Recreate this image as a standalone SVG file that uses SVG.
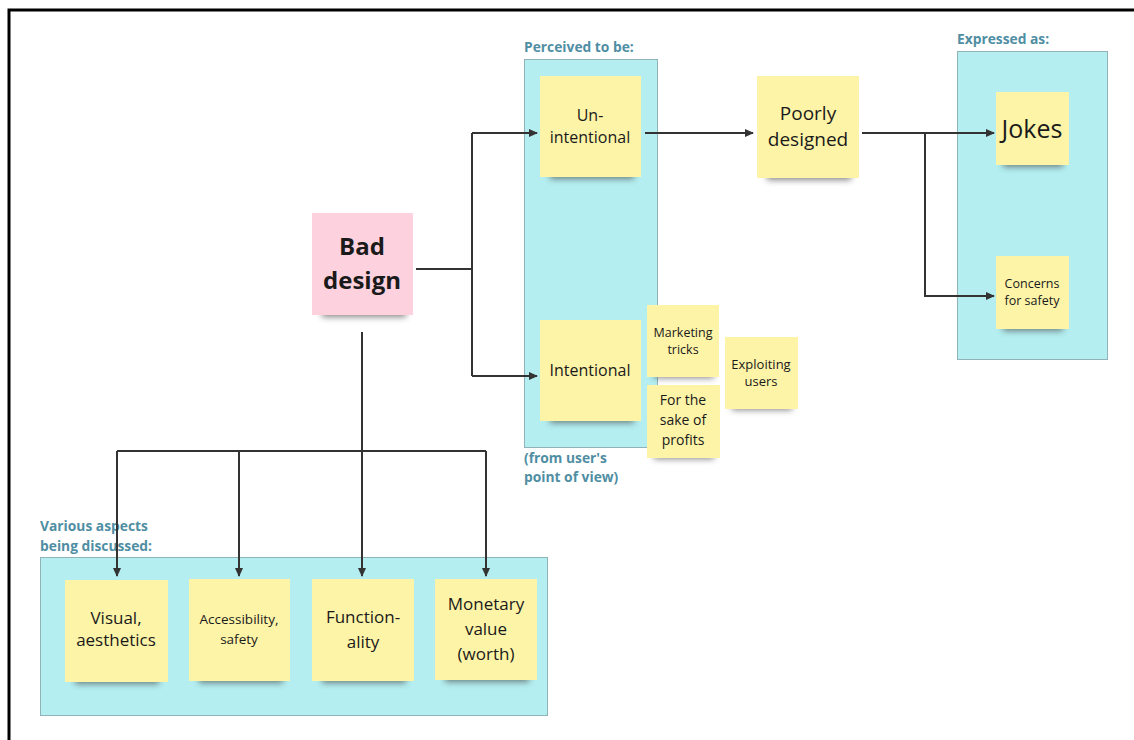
<svg xmlns="http://www.w3.org/2000/svg" width="1134" height="740" viewBox="0 0 1134 740">
<defs>
<marker id="arr" markerWidth="10" markerHeight="10" refX="8" refY="5" orient="auto" markerUnits="userSpaceOnUse">
<path d="M0,1 L9,5 L0,9 Z" fill="#333"/>
</marker>
<filter id="blur" x="-20%" y="-100%" width="140%" height="300%"><feGaussianBlur stdDeviation="3"/></filter>
</defs>
<style>
.frame{fill:none;stroke:#000;stroke-width:3}
.box{fill:#b4eef0;stroke:#8fb3b6;stroke-width:1}
.sticky{fill:#fdf4a8}
.pink{fill:#fdd2de}
.sh{fill:#444;opacity:0.65;filter:url(#blur)}
.lbl{font-family:"Open Sans","DejaVu Sans",sans-serif;font-weight:bold;font-size:13.800px;fill:#4f8ea3}
.t{font-family:"Open Sans","DejaVu Sans",sans-serif;fill:#1a1a1a;text-anchor:middle}
.c{fill:none;stroke:#333;stroke-width:2}
</style>
<rect width="1134" height="740" fill="#fff"/>
<path class="frame" d="M9,740 V10 H1134"/>

<g id="containers">
<rect class="box" x="524.500" y="59.500" width="133" height="388"/>
<text class="lbl" x="524" y="52">Perceived to be:</text>
<text class="lbl" x="524" y="463">(from user's</text>
<text class="lbl" x="524" y="482">point of view)</text>
<rect class="box" x="957.500" y="51.500" width="150" height="308"/>
<text class="lbl" x="957" y="44">Expressed as:</text>
<rect class="box" x="40.500" y="557.500" width="507" height="158"/>
<text class="lbl" x="40" y="531">Various aspects</text>
<text class="lbl" x="40" y="551">being discussed:</text>
</g>

<g id="connectors">
<path class="c" d="M416,269 H472"/>
<path class="c" d="M472,133 V376"/>
<path class="c" d="M472,133 H537" marker-end="url(#arr)"/>
<path class="c" d="M472,376 H537" marker-end="url(#arr)"/>
<path class="c" d="M645,133 H753" marker-end="url(#arr)"/>
<path class="c" d="M862,133 H994" marker-end="url(#arr)"/>
<path class="c" d="M925,133 V296 H994" marker-end="url(#arr)"/>
<path class="c" d="M362,332 V451"/>
<path class="c" d="M117,451 H486"/>
<path class="c" d="M117,451 V576" marker-end="url(#arr)"/>
<path class="c" d="M239,451 V576" marker-end="url(#arr)"/>
<path class="c" d="M362,451 V576" marker-end="url(#arr)"/>
<path class="c" d="M486,451 V576" marker-end="url(#arr)"/>
</g>

<g id="bad-design">
<rect class="sh" x="322" y="308" width="84" height="9"/>
<rect class="pink" x="312" y="213" width="101" height="102"/>
<text class="t" x="362" y="255" font-size="24" font-weight="bold">Bad</text>
<text class="t" x="362" y="289" font-size="24" font-weight="bold">design</text>
</g>

<g id="unintentional">
<rect class="sh" x="550" y="170" width="84" height="9"/>
<rect class="sticky" x="540" y="76" width="101" height="101"/>
<text class="t" x="590" y="121" font-size="16">Un-</text>
<text class="t" x="590" y="143" font-size="16">intentional</text>
</g>

<g id="intentional">
<rect class="sh" x="550" y="414" width="84" height="9"/>
<rect class="sticky" x="540" y="320" width="101" height="101"/>
<text class="t" x="590" y="376" font-size="16">Intentional</text>
</g>

<g id="marketing">
<rect class="sh" x="654" y="371" width="60" height="7"/>
<rect class="sticky" x="647" y="305" width="72" height="72"/>
<text class="t" x="683" y="337" font-size="12.500">Marketing</text>
<text class="t" x="683" y="354" font-size="12.500">tricks</text>
</g>

<g id="profits">
<rect class="sh" x="654" y="452" width="60" height="7"/>
<rect class="sticky" x="647" y="385" width="73" height="73"/>
<text class="t" x="683" y="405" font-size="14">For the</text>
<text class="t" x="683" y="425" font-size="14">sake of</text>
<text class="t" x="683" y="445" font-size="14">profits</text>
</g>

<g id="exploiting">
<rect class="sh" x="732" y="403" width="60" height="7"/>
<rect class="sticky" x="725" y="337" width="73" height="72"/>
<text class="t" x="761" y="369" font-size="13">Exploiting</text>
<text class="t" x="761" y="386" font-size="13">users</text>
</g>

<g id="poorly">
<rect class="sh" x="767" y="171" width="84" height="9"/>
<rect class="sticky" x="757" y="76" width="102" height="102"/>
<text class="t" x="808" y="120" font-size="19">Poorly</text>
<text class="t" x="808" y="146" font-size="19">designed</text>
</g>

<g id="jokes">
<rect class="sh" x="1003" y="159" width="60" height="8"/>
<rect class="sticky" x="996" y="92" width="73" height="73"/>
<text class="t" x="1032" y="138" font-size="25">Jokes</text>
</g>

<g id="concerns">
<rect class="sh" x="1003" y="323" width="60" height="8"/>
<rect class="sticky" x="996" y="256" width="73" height="73"/>
<text class="t" x="1032" y="288" font-size="12.500">Concerns</text>
<text class="t" x="1032" y="305" font-size="12.500">for safety</text>
</g>

<g id="visual">
<rect class="sh" x="75" y="675" width="84" height="9"/>
<rect class="sticky" x="65" y="580" width="103" height="102"/>
<text class="t" x="116" y="624" font-size="17">Visual,</text>
<text class="t" x="116" y="646" font-size="17">aesthetics</text>
</g>

<g id="accessibility">
<rect class="sh" x="199" y="674" width="84" height="9"/>
<rect class="sticky" x="189" y="579" width="101" height="102"/>
<text class="t" x="239" y="624" font-size="13.500">Accessibility,</text>
<text class="t" x="239" y="644" font-size="13.500">safety</text>
</g>

<g id="functionality">
<rect class="sh" x="322" y="674" width="84" height="9"/>
<rect class="sticky" x="312" y="579" width="102" height="102"/>
<text class="t" x="363" y="623" font-size="17">Function-</text>
<text class="t" x="363" y="648" font-size="17">ality</text>
</g>

<g id="monetary">
<rect class="sh" x="445" y="673" width="84" height="9"/>
<rect class="sticky" x="435" y="579" width="102" height="101"/>
<text class="t" x="486" y="610" font-size="17">Monetary</text>
<text class="t" x="486" y="635" font-size="17">value</text>
<text class="t" x="486" y="660" font-size="17">(worth)</text>
</g>
</svg>
